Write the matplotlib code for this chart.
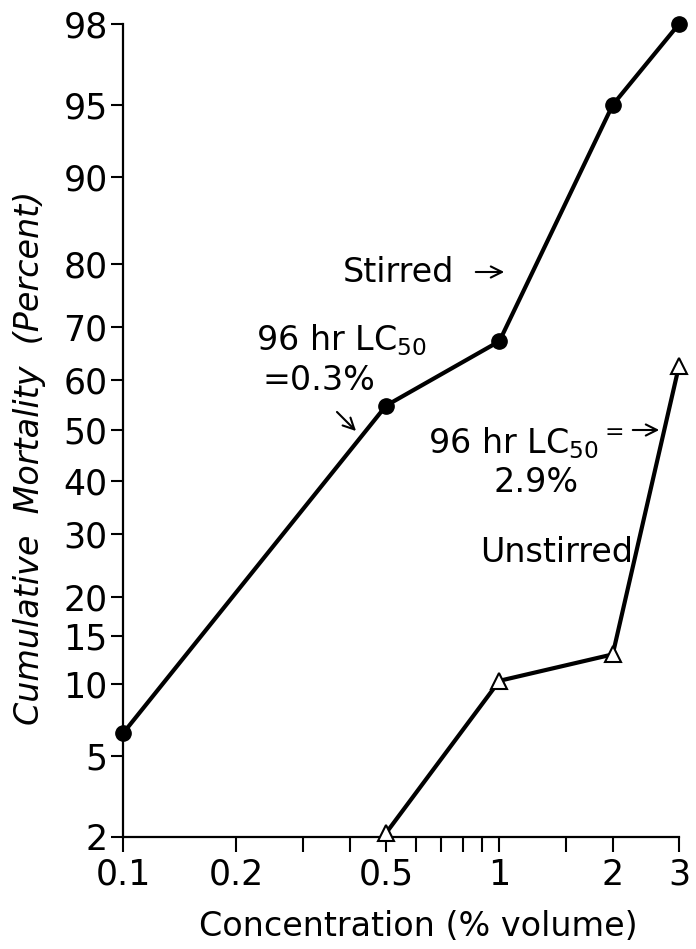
import math
import numpy as np
import matplotlib
matplotlib.use("Agg")
import matplotlib.pyplot as plt

# data (concentration in % volume, mortality in percent)
stirred_conc = [0.1, 0.5, 1.0, 2.0, 3.0]
stirred_mort = [6.3, 55.0, 67.4, 95.0, 98.0]
unstirred_conc = [0.5, 1.0, 2.0, 3.0]
unstirred_mort = [2.1, 10.3, 12.9, 62.8]

y_ticks = [2, 5, 10, 15, 20, 30, 40, 50, 60, 70, 80, 90, 95, 98]
x_major = [0.1, 0.2, 0.5, 1, 2, 3]
x_major_labels = ["0.1", "0.2", "0.5", "1", "2", "3"]
x_minor = [0.3, 0.4, 0.6, 0.7, 0.8, 0.9, 1.5]

plt.rcParams["font.family"] = ["DejaVu Sans"]
plt.rcParams["mathtext.fontset"] = "dejavusans"


def probit(p):
    # inverse normal cdf (Acklam's rational approximation), p in percent
    q = np.clip(np.asarray(p, dtype=float) / 100.0, 1e-9, 1 - 1e-9)
    a = [-3.969683028665376e+01, 2.209460984245205e+02, -2.759285104469687e+02,
         1.383577518672690e+02, -3.066479806614716e+01, 2.506628277459239e+00]
    b = [-5.447609879822406e+01, 1.615858368580409e+02, -1.556989798598866e+02,
         6.680131188771972e+01, -1.328068155288572e+01]
    c = [-7.784894002430293e-03, -3.223964580411365e-01, -2.400758277161838e+00,
         -2.549732539343734e+00, 4.374664141464968e+00, 2.938163982698783e+00]
    d = [7.784695709041462e-03, 3.224671290700398e-01, 2.445134137142996e+00,
         3.754408661907416e+00]
    out = np.empty_like(q)
    lo = q < 0.02425
    hi = q > 1 - 0.02425
    mid = ~(lo | hi)
    t = np.sqrt(-2 * np.log(q[lo]))
    out[lo] = (((((c[0]*t+c[1])*t+c[2])*t+c[3])*t+c[4])*t+c[5]) / ((((d[0]*t+d[1])*t+d[2])*t+d[3])*t+1)
    t = np.sqrt(-2 * np.log(1 - q[hi]))
    out[hi] = -(((((c[0]*t+c[1])*t+c[2])*t+c[3])*t+c[4])*t+c[5]) / ((((d[0]*t+d[1])*t+d[2])*t+d[3])*t+1)
    r = q[mid] - 0.5
    s = r * r
    out[mid] = (((((a[0]*s+a[1])*s+a[2])*s+a[3])*s+a[4])*s+a[5])*r / (((((b[0]*s+b[1])*s+b[2])*s+b[3])*s+b[4])*s+1)
    return out


_erf = np.vectorize(math.erf)


def inv_probit(z):
    return 50.0 * (1 + _erf(np.asarray(z, dtype=float) / math.sqrt(2)))


W, H = 696, 949
fig = plt.figure(figsize=(W / 100, H / 100), dpi=100)
ax = fig.add_axes([123 / W, 1 - 837 / H, (679 - 123) / W, (837 - 24) / H])

ax.set_xscale("log")
ax.set_yscale("function", functions=(probit, inv_probit))
ax.set_xlim(0.1, 3)
ax.set_ylim(2, 98)

ax.plot(stirred_conc, stirred_mort, color="black", lw=3, marker="o", ms=11,
        clip_on=False, zorder=3)
ax.plot(unstirred_conc, unstirred_mort, color="black", lw=3, marker="^", ms=11,
        mfc="white", mec="black", mew=1.5, clip_on=False, zorder=3)

for side in ["top", "right"]:
    ax.spines[side].set_visible(False)
for side in ["left", "bottom"]:
    ax.spines[side].set_linewidth(1.6)

ax.set_yticks(y_ticks)
ax.set_yticklabels([str(v) for v in y_ticks])
ax.yaxis.set_minor_locator(matplotlib.ticker.NullLocator())
ax.set_xticks(x_major)
ax.set_xticklabels(x_major_labels)
ax.set_xticks(x_minor, minor=True)
ax.xaxis.set_minor_formatter(matplotlib.ticker.NullFormatter())
ax.tick_params(axis="y", direction="out", length=9, width=1.5, pad=2, labelsize=25)
ax.tick_params(axis="x", which="both", direction="out", length=11, width=1.5, pad=4, labelsize=25)

def fp(x, y):
    return (x / W, 1 - y / H)

fs = 24
fig.text(*fp(418, 927), "Concentration (% volume)", ha="center", va="center", fontsize=fs)
fig.text(*fp(30, 458), "Cumulative  Mortality  (Percent)", ha="center", va="center",
         rotation=90, fontsize=fs, style="italic")

fig.text(*fp(343, 272), "Stirred", ha="left", va="center", fontsize=fs)
ax.annotate("", xy=fp(507, 272), xytext=fp(473, 272), xycoords="figure fraction",
            textcoords="figure fraction",
            arrowprops=dict(arrowstyle="->", lw=1.5, color="black",
                            mutation_scale=20))
fig.text(*fp(256, 340), r"96 hr LC$_{\mathregular{50}}$", ha="left", va="center", fontsize=fs)
fig.text(*fp(262, 380), "=0.3%", ha="left", va="center", fontsize=fs)
ax.annotate("", xy=fp(358, 433), xytext=fp(335, 410), xycoords="figure fraction",
            textcoords="figure fraction",
            arrowprops=dict(arrowstyle="->", lw=1.5, color="black",
                            mutation_scale=20))

fig.text(*fp(428, 443), r"96 hr LC$_{\mathregular{50}}$$^{\mathregular{=}}$", ha="left",
         va="center", fontsize=fs)
ax.annotate("", xy=fp(662, 430), xytext=fp(630, 430), xycoords="figure fraction",
            textcoords="figure fraction",
            arrowprops=dict(arrowstyle="->", lw=1.5, color="black",
                            mutation_scale=20))
fig.text(*fp(536, 482), "2.9%", ha="center", va="center", fontsize=fs)
fig.text(*fp(480, 553), "Unstirred", ha="left", va="center", fontsize=fs)

fig.savefig("out.png", dpi=100)
